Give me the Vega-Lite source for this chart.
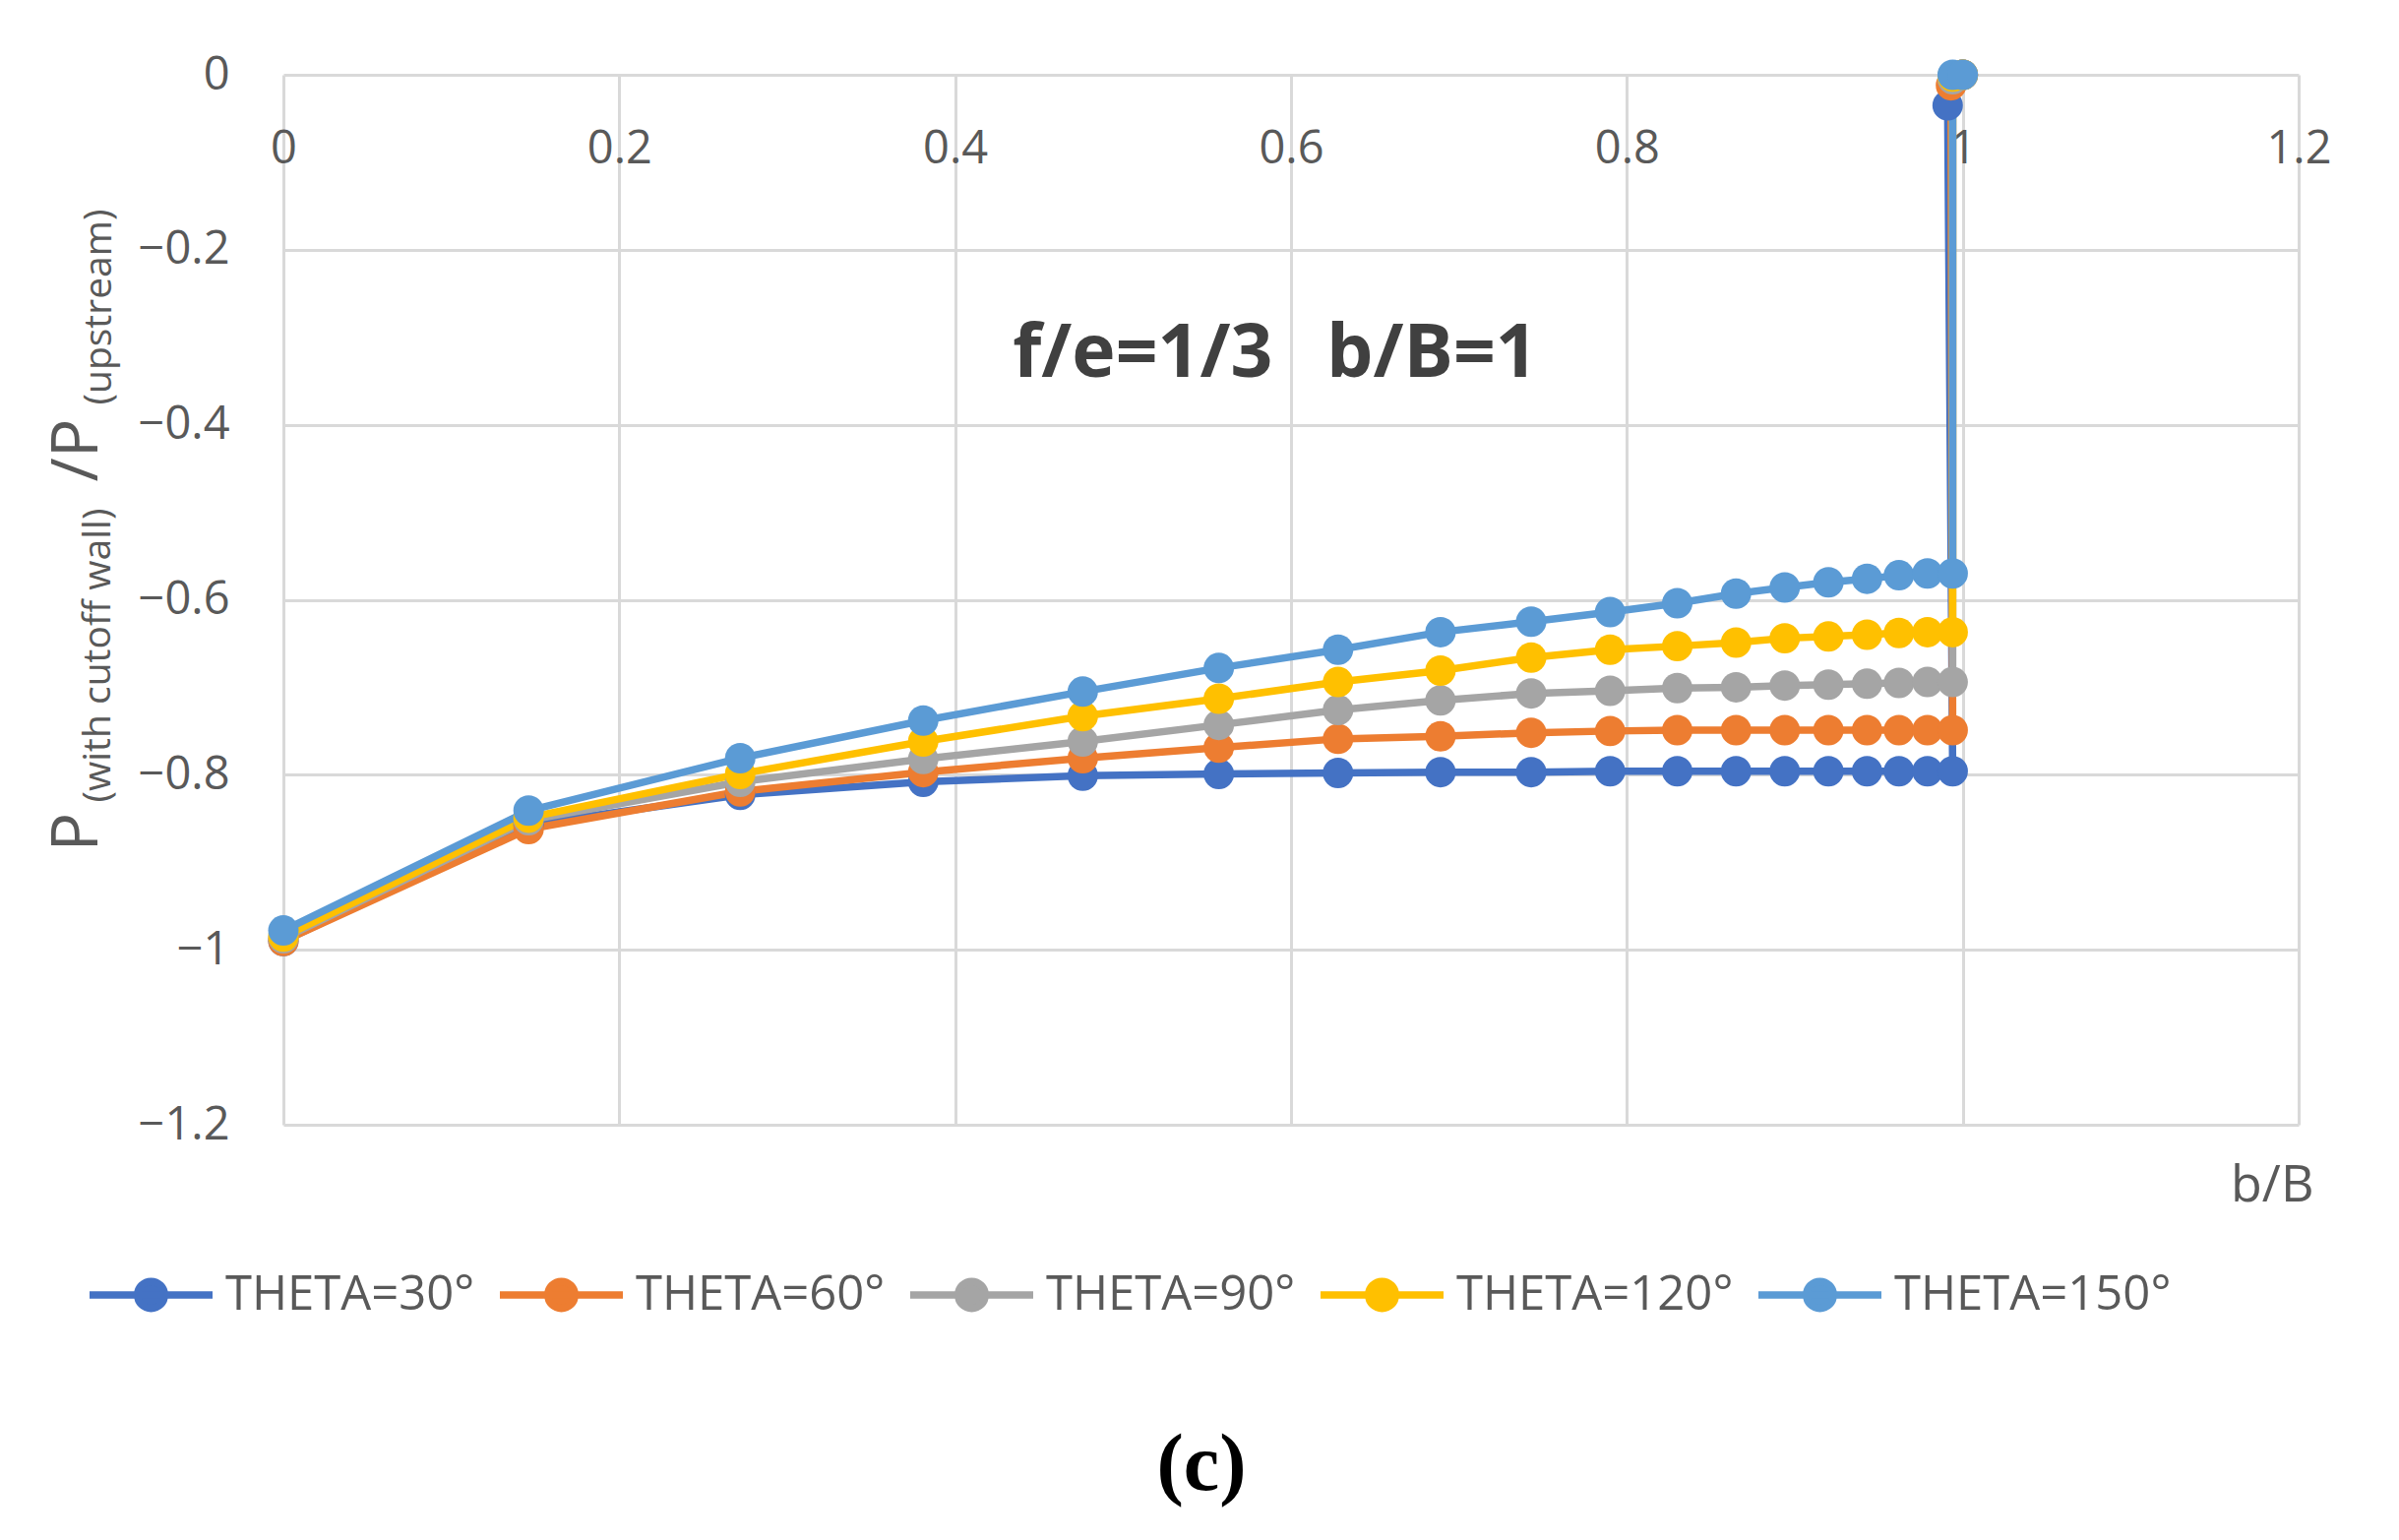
{
  "$schema": "https://vega.github.io/schema/vega-lite/v6.json",
  "width": 2048,
  "height": 1067,
  "autosize": "none",
  "padding": {"left": 288, "top": 76, "right": 102, "bottom": 422},
  "background": "white",
  "config": {
    "view": {"stroke": null},
    "axis": {
      "labelFont": "Open Sans",
      "titleFont": "Open Sans",
      "labelColor": "#595959",
      "titleColor": "#595959",
      "titleFontWeight": "normal"
    }
  },
  "title": {
    "text": "(c)",
    "orient": "bottom",
    "frame": "group",
    "anchor": "middle",
    "dx": -91,
    "offset": 104,
    "font": "Liberation Serif",
    "fontSize": 82,
    "fontWeight": "bold",
    "color": "black"
  },
  "datasets": {
    "series": [
      {"theta": "THETA=30°", "b": 0, "p": -0.99},
      {"theta": "THETA=30°", "b": 0.146, "p": -0.857},
      {"theta": "THETA=30°", "b": 0.272, "p": -0.823},
      {"theta": "THETA=30°", "b": 0.381, "p": -0.808},
      {"theta": "THETA=30°", "b": 0.476, "p": -0.801},
      {"theta": "THETA=30°", "b": 0.557, "p": -0.799},
      {"theta": "THETA=30°", "b": 0.628, "p": -0.798},
      {"theta": "THETA=30°", "b": 0.689, "p": -0.797},
      {"theta": "THETA=30°", "b": 0.743, "p": -0.797},
      {"theta": "THETA=30°", "b": 0.79, "p": -0.796},
      {"theta": "THETA=30°", "b": 0.83, "p": -0.796},
      {"theta": "THETA=30°", "b": 0.865, "p": -0.796},
      {"theta": "THETA=30°", "b": 0.894, "p": -0.796},
      {"theta": "THETA=30°", "b": 0.92, "p": -0.796},
      {"theta": "THETA=30°", "b": 0.943, "p": -0.796},
      {"theta": "THETA=30°", "b": 0.962, "p": -0.796},
      {"theta": "THETA=30°", "b": 0.979, "p": -0.796},
      {"theta": "THETA=30°", "b": 0.994, "p": -0.796},
      {"theta": "THETA=30°", "b": 0.991, "p": -0.035},
      {"theta": "THETA=30°", "b": 1, "p": 0},
      {"theta": "THETA=60°", "b": 0, "p": -0.99},
      {"theta": "THETA=60°", "b": 0.146, "p": -0.862},
      {"theta": "THETA=60°", "b": 0.272, "p": -0.819},
      {"theta": "THETA=60°", "b": 0.381, "p": -0.797},
      {"theta": "THETA=60°", "b": 0.476, "p": -0.781},
      {"theta": "THETA=60°", "b": 0.557, "p": -0.769},
      {"theta": "THETA=60°", "b": 0.628, "p": -0.759},
      {"theta": "THETA=60°", "b": 0.689, "p": -0.756},
      {"theta": "THETA=60°", "b": 0.743, "p": -0.752},
      {"theta": "THETA=60°", "b": 0.79, "p": -0.75},
      {"theta": "THETA=60°", "b": 0.83, "p": -0.749},
      {"theta": "THETA=60°", "b": 0.865, "p": -0.749},
      {"theta": "THETA=60°", "b": 0.894, "p": -0.749},
      {"theta": "THETA=60°", "b": 0.92, "p": -0.749},
      {"theta": "THETA=60°", "b": 0.943, "p": -0.749},
      {"theta": "THETA=60°", "b": 0.962, "p": -0.749},
      {"theta": "THETA=60°", "b": 0.979, "p": -0.749},
      {"theta": "THETA=60°", "b": 0.994, "p": -0.749},
      {"theta": "THETA=60°", "b": 0.993, "p": -0.012},
      {"theta": "THETA=60°", "b": 1, "p": 0},
      {"theta": "THETA=90°", "b": 0, "p": -0.987},
      {"theta": "THETA=90°", "b": 0.146, "p": -0.852},
      {"theta": "THETA=90°", "b": 0.272, "p": -0.808},
      {"theta": "THETA=90°", "b": 0.381, "p": -0.782},
      {"theta": "THETA=90°", "b": 0.476, "p": -0.762},
      {"theta": "THETA=90°", "b": 0.557, "p": -0.743},
      {"theta": "THETA=90°", "b": 0.628, "p": -0.726},
      {"theta": "THETA=90°", "b": 0.689, "p": -0.715},
      {"theta": "THETA=90°", "b": 0.743, "p": -0.707},
      {"theta": "THETA=90°", "b": 0.79, "p": -0.704},
      {"theta": "THETA=90°", "b": 0.83, "p": -0.701},
      {"theta": "THETA=90°", "b": 0.865, "p": -0.7},
      {"theta": "THETA=90°", "b": 0.894, "p": -0.698},
      {"theta": "THETA=90°", "b": 0.92, "p": -0.697},
      {"theta": "THETA=90°", "b": 0.943, "p": -0.696},
      {"theta": "THETA=90°", "b": 0.962, "p": -0.695},
      {"theta": "THETA=90°", "b": 0.979, "p": -0.694},
      {"theta": "THETA=90°", "b": 0.994, "p": -0.694},
      {"theta": "THETA=90°", "b": 0.994, "p": -0.005},
      {"theta": "THETA=90°", "b": 1, "p": 0},
      {"theta": "THETA=120°", "b": 0, "p": -0.985},
      {"theta": "THETA=120°", "b": 0.146, "p": -0.849},
      {"theta": "THETA=120°", "b": 0.272, "p": -0.799},
      {"theta": "THETA=120°", "b": 0.381, "p": -0.762},
      {"theta": "THETA=120°", "b": 0.476, "p": -0.733},
      {"theta": "THETA=120°", "b": 0.557, "p": -0.713},
      {"theta": "THETA=120°", "b": 0.628, "p": -0.694},
      {"theta": "THETA=120°", "b": 0.689, "p": -0.681},
      {"theta": "THETA=120°", "b": 0.743, "p": -0.666},
      {"theta": "THETA=120°", "b": 0.79, "p": -0.657},
      {"theta": "THETA=120°", "b": 0.83, "p": -0.653},
      {"theta": "THETA=120°", "b": 0.865, "p": -0.649},
      {"theta": "THETA=120°", "b": 0.894, "p": -0.644},
      {"theta": "THETA=120°", "b": 0.92, "p": -0.642},
      {"theta": "THETA=120°", "b": 0.943, "p": -0.64},
      {"theta": "THETA=120°", "b": 0.962, "p": -0.638},
      {"theta": "THETA=120°", "b": 0.979, "p": -0.637},
      {"theta": "THETA=120°", "b": 0.994, "p": -0.637},
      {"theta": "THETA=120°", "b": 0.994, "p": -0.002},
      {"theta": "THETA=120°", "b": 1, "p": 0},
      {"theta": "THETA=150°", "b": 0, "p": -0.978},
      {"theta": "THETA=150°", "b": 0.146, "p": -0.841},
      {"theta": "THETA=150°", "b": 0.272, "p": -0.781},
      {"theta": "THETA=150°", "b": 0.381, "p": -0.738},
      {"theta": "THETA=150°", "b": 0.476, "p": -0.705},
      {"theta": "THETA=150°", "b": 0.557, "p": -0.678},
      {"theta": "THETA=150°", "b": 0.628, "p": -0.657},
      {"theta": "THETA=150°", "b": 0.689, "p": -0.637},
      {"theta": "THETA=150°", "b": 0.743, "p": -0.625},
      {"theta": "THETA=150°", "b": 0.79, "p": -0.614},
      {"theta": "THETA=150°", "b": 0.83, "p": -0.604},
      {"theta": "THETA=150°", "b": 0.865, "p": -0.593},
      {"theta": "THETA=150°", "b": 0.894, "p": -0.586},
      {"theta": "THETA=150°", "b": 0.92, "p": -0.58},
      {"theta": "THETA=150°", "b": 0.943, "p": -0.576},
      {"theta": "THETA=150°", "b": 0.962, "p": -0.572},
      {"theta": "THETA=150°", "b": 0.979, "p": -0.57},
      {"theta": "THETA=150°", "b": 0.994, "p": -0.57},
      {"theta": "THETA=150°", "b": 0.994, "p": 0},
      {"theta": "THETA=150°", "b": 1, "p": 0}
    ],
    "note_left": [{"b": 0.5117, "p": -0.3453, "label": "f/e=1/3"}],
    "note_right": [{"b": 0.684, "p": -0.3453, "label": "b/B=1"}]
  },
  "layer": [
    {
      "data": {"name": "series"},
      "mark": {"type": "line", "strokeWidth": 7.5, "strokeJoin": "round", "strokeCap": "round"},
      "encoding": {
        "x": {
          "field": "b",
          "type": "quantitative",
          "title": "b/B",
          "scale": {"domain": [0, 1.2], "nice": false, "zero": false},
          "axis": {
            "orient": "bottom",
            "offset": -1067,
            "values": [0, 0.2, 0.4, 0.6, 0.8, 1, 1.2],
            "format": "~g",
            "grid": true,
            "gridColor": "#d9d9d9",
            "gridWidth": 3,
            "domain": false,
            "ticks": false,
            "labelFontSize": 47,
            "labelPadding": 52,
            "labelBaseline": "top",
            "labelFlush": false,
            "labelOverlap": false,
            "titleFontSize": 52,
            "titleX": 2063,
            "titleY": 1144,
            "titleAlign": "right",
            "titleBaseline": "alphabetic"
          }
        },
        "y": {
          "field": "p",
          "type": "quantitative",
          "scale": {"domain": [-1.2, 0], "nice": false, "zero": false},
          "axis": {
            "orient": "left",
            "values": [0, -0.2, -0.4, -0.6, -0.8, -1, -1.2],
            "format": "~g",
            "grid": true,
            "gridColor": "#d9d9d9",
            "gridWidth": 3,
            "domain": false,
            "ticks": false,
            "labelFontSize": 47,
            "labelPadding": 55,
            "labelFlush": false,
            "labelOverlap": false,
            "title": "P",
            "titleFontSize": 66,
            "titleAngle": -90,
            "titleX": -190,
            "titleY": 789,
            "titleAlign": "left",
            "titleBaseline": "alphabetic"
          }
        },
        "color": {
          "field": "theta",
          "type": "nominal",
          "scale": {
            "domain": ["THETA=30°", "THETA=60°", "THETA=90°", "THETA=120°", "THETA=150°"],
            "range": ["#4472C4", "#ED7D31", "#A5A5A5", "#FFC000", "#5B9BD5"]
          },
          "legend": {
            "orient": "none",
            "legendX": -201,
            "legendY": 1173,
            "direction": "horizontal",
            "columns": 5,
            "title": null,
            "padding": 0,
            "symbolType": "M-1,0H1M0.22,0A0.22,0.22,0,1,1,-0.22,0A0.22,0.22,0,1,1,0.22,0Z",
            "symbolSize": 15625,
            "symbolStrokeWidth": 7.5,
            "labelFont": "Open Sans",
            "labelFontSize": 49,
            "labelColor": "#595959",
            "labelOffset": 9,
            "labelLimit": 0,
            "columnPadding": 10,
            "encode": {
              "symbols": {
                "update": {
                  "fill": {"scale": "color", "field": "value"},
                  "stroke": {"scale": "color", "field": "value"},
                  "opacity": {"value": 1}
                }
              }
            }
          }
        },
        "order": {"value": null}
      }
    },
    {
      "data": {"name": "series"},
      "mark": {"type": "point", "shape": "circle", "filled": true, "size": 960, "opacity": 1},
      "encoding": {
        "x": {"field": "b", "type": "quantitative", "title": "b/B"},
        "y": {
          "field": "p",
          "type": "quantitative",
          "axis": {
            "orient": "left",
            "labels": false,
            "ticks": false,
            "domain": false,
            "grid": false,
            "title": "(with cutoff wall)",
            "titleFontSize": 39,
            "titleAngle": -90,
            "titleX": -177,
            "titleY": 739,
            "titleAlign": "left",
            "titleBaseline": "alphabetic"
          }
        },
        "color": {"field": "theta", "type": "nominal"}
      }
    },
    {
      "data": {"name": "note_left"},
      "mark": {"type": "text", "font": "Open Sans", "fontWeight": "bold", "fontSize": 75, "color": "#404040", "align": "center", "baseline": "alphabetic"},
      "encoding": {
        "x": {"field": "b", "type": "quantitative", "title": "b/B"},
        "y": {
          "field": "p",
          "type": "quantitative",
          "axis": {
            "orient": "left",
            "labels": false,
            "ticks": false,
            "domain": false,
            "grid": false,
            "title": "/P",
            "titleFontSize": 66,
            "titleAngle": -90,
            "titleX": -190,
            "titleY": 413,
            "titleAlign": "left",
            "titleBaseline": "alphabetic"
          }
        },
        "text": {"field": "label"}
      }
    },
    {
      "data": {"name": "note_right"},
      "mark": {"type": "text", "font": "Open Sans", "fontWeight": "bold", "fontSize": 75, "color": "#404040", "align": "center", "baseline": "alphabetic"},
      "encoding": {
        "x": {"field": "b", "type": "quantitative", "title": "b/B"},
        "y": {
          "field": "p",
          "type": "quantitative",
          "axis": {
            "orient": "left",
            "labels": false,
            "ticks": false,
            "domain": false,
            "grid": false,
            "title": "(upstream)",
            "titleFontSize": 39,
            "titleAngle": -90,
            "titleX": -176,
            "titleY": 335,
            "titleAlign": "left",
            "titleBaseline": "alphabetic"
          }
        },
        "text": {"field": "label"}
      }
    }
  ],
  "resolve": {"axis": {"y": "independent"}}
}
